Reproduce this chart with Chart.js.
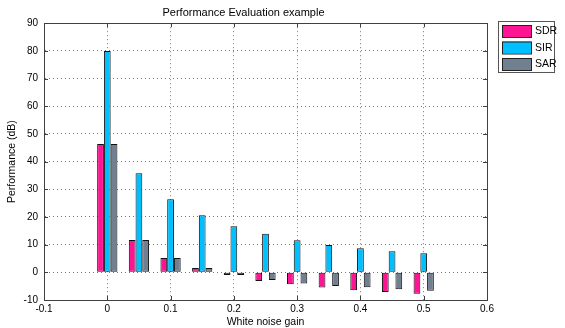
<!DOCTYPE html>
<html>
<head>
<meta charset="utf-8">
<script src="https://cdn.jsdelivr.net/npm/chart.js@4/dist/chart.umd.min.js"></script>
<style>
  html, body { margin: 0; padding: 0; background: #fff; }
  #wrap { width: 565px; height: 328px; }
</style>
</head>
<body>
<div id="wrap"><canvas id="grafica" width="565" height="328"></canvas></div>
<script>
// noise gain for each group of bars
var gains = [0, 0.05, 0.1, 0.15, 0.2, 0.25, 0.3, 0.35, 0.4, 0.45, 0.5];
var sdr = [46.4, 11.7, 5.2, 1.6, -1.0, -3.1, -4.3, -5.5, -6.5, -7.1, -7.7];
var sir = [80.0, 35.8, 26.4, 20.6, 16.6, 13.9, 11.6, 9.9, 8.7, 7.6, 6.9];
var sar = [46.4, 11.7, 5.2, 1.6, -1.0, -2.8, -4.0, -4.9, -5.4, -6.1, -6.7];
var seriesNames = ['SDR', 'SIR', 'SAR'];
var seriesColors = ['#ff1493', '#00bfff', '#708090'];

var fontFam = '"Liberation Sans", Arial, Helvetica, sans-serif';

function puntos(vals) {
	return gains.map(function(g, i) { return { x: g, y: vals[i] }; });
}

function creaDataset(i, vals) {
	return {
		label: seriesNames[i],
		data: puntos(vals),
		backgroundColor: seriesColors[i],
		borderColor: '#111',
		borderWidth: 1,
		borderSkipped: false,
		categoryPercentage: 0.64,
		barPercentage: 1.0
	};
}

// box around plot, inner tick marks and the boxed legend (MATLAB look)
var matlabMarco = {
	id: 'matlabMarco',
	afterDraw: function(chart) {
		var ctx = chart.ctx;
		var a = chart.chartArea;
		var sx = chart.scales.x, sy = chart.scales.y;
		ctx.save();
		ctx.strokeStyle = '#404040';
		ctx.lineWidth = 1;
		ctx.beginPath();
		sx.ticks.forEach(function(t) {
			var px = Math.round(sx.getPixelForValue(t.value)) + 0.5;
			ctx.moveTo(px, a.bottom); ctx.lineTo(px, a.bottom - 4);
			ctx.moveTo(px, a.top); ctx.lineTo(px, a.top + 4);
		});
		sy.ticks.forEach(function(t) {
			var py = Math.round(sy.getPixelForValue(t.value)) + 0.5;
			ctx.moveTo(a.left, py); ctx.lineTo(a.left + 4, py);
			ctx.moveTo(a.right, py); ctx.lineTo(a.right - 4, py);
		});
		ctx.stroke();
		ctx.strokeRect(Math.round(a.left) + 0.5, Math.round(a.top) + 0.5,
			Math.round(a.right - a.left), Math.round(a.bottom - a.top));

		// legend
		var lx = 498, ly = 21, lw = 56, lh = 51;
		ctx.fillStyle = '#fff';
		ctx.fillRect(lx, ly, lw, lh);
		ctx.strokeStyle = '#555';
		ctx.strokeRect(lx + 0.5, ly + 0.5, lw, lh);
		ctx.font = '10.5px ' + fontFam;
		ctx.textBaseline = 'middle';
		chart.data.datasets.forEach(function(ds, i) {
			var cy = ly + 10 + i * 16.5;
			ctx.fillStyle = ds.backgroundColor;
			ctx.fillRect(502, cy - 6, 29, 12);
			ctx.strokeStyle = '#222';
			ctx.strokeRect(502.5, cy - 6 + 0.5, 29, 12);
			ctx.fillStyle = '#000';
			ctx.fillText(ds.label, 535, cy + 0.5);
		});
		ctx.restore();
	}
};

var ctx = document.getElementById('grafica').getContext('2d');
new Chart(ctx, {
	type: 'bar',
	data: {
		datasets: [creaDataset(0, sdr), creaDataset(1, sir), creaDataset(2, sar)]
	},
	options: {
		responsive: false,
		animation: false,
		layout: { padding: { left: 0, right: 78, top: 0, bottom: 0 } },
		plugins: {
			legend: { display: false },
			tooltip: { enabled: false },
			title: {
				display: true,
				text: 'Performance Evaluation example',
				color: '#000',
				font: { family: fontFam, size: 11, weight: 'normal' },
				padding: { top: 6, bottom: 4 }
			}
		},
		scales: {
			x: {
				type: 'linear',
				min: -0.1,
				max: 0.6,
				offset: false,
				grid: { offset: false, color: '#777', drawTicks: false, lineWidth: 1 },
				border: { display: true, color: '#404040', dash: [1, 3] },
				ticks: {
					stepSize: 0.1,
					padding: 3,
					color: '#000',
					font: { family: fontFam, size: 10 },
					maxRotation: 0,
					callback: function(v) { return String(Number(v.toFixed(2))); }
				},
				title: {
					display: true,
					text: 'White noise gain',
					color: '#000',
					font: { family: fontFam, size: 10.5 },
					padding: { top: 0, bottom: 0 }
				},
				afterFit: function(s) { s.height = 28; }
			},
			y: {
				min: -10,
				max: 90,
				grid: { color: '#777', drawTicks: false, lineWidth: 1 },
				border: { display: true, color: '#404040', dash: [1, 3] },
				ticks: {
					stepSize: 10,
					padding: 6,
					color: '#000',
					font: { family: fontFam, size: 10 }
				},
				title: {
					display: true,
					text: 'Performance (dB)',
					color: '#000',
					font: { family: fontFam, size: 10.5 },
					padding: { top: 6, bottom: 0 }
				},
				afterFit: function(s) { s.width = 44; }
			}
		}
	},
	plugins: [matlabMarco]
});
</script>
</body>
</html>
